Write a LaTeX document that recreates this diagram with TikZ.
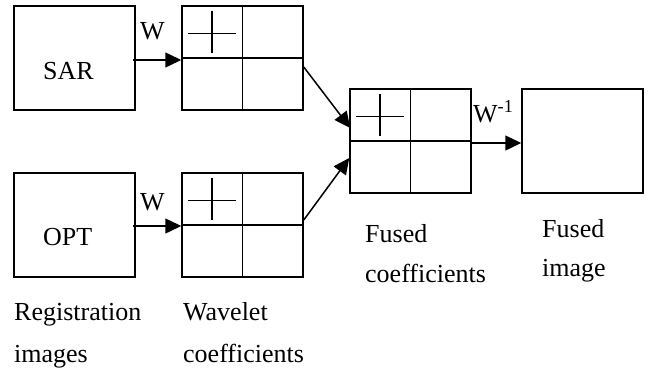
\documentclass[tikz,border=0pt]{standalone}
\usepackage{fontspec}
\setmainfont{Liberation Serif}
\usetikzlibrary{arrows.meta,calc}
\begin{document}
\begin{tikzpicture}[x=1pt,y=-1pt,
  box/.style={draw,line width=1.5pt,rectangle,minimum width=121pt,minimum height=104pt,inner sep=0pt},
  txt/.style={inner sep=0pt,anchor=base west,font=\fontsize{26pt}{30pt}\selectfont},
  grid/.style={line width=1.5pt},
  arr/.style={line width=1.5pt,-{Triangle[length=16pt,width=15pt]}}]
\useasboundingbox (0,0) rectangle (650,372);
% boxes
\node[box] (sar) at (74.5,58) {};
\node[box] (w1) at (242.5,58) {};
\node[box] (opt) at (74.5,225) {};
\node[box] (w2) at (242.5,225) {};
\node[box] (fc) at (410.5,141) {};
\node[box] (fi) at (582.5,141) {};
% grids
\foreach \b in {w1,w2,fc}{
  \draw[grid] (\b.north) -- (\b.south);
  \draw[grid] (\b.west) -- (\b.east);
  \coordinate (\b q) at ($(\b.north west)!0.5!(\b.center)$);
  \draw[grid] ($(\b q)+(-24,2)$) -- ($(\b q)+(24,2)$);
  \draw[grid] ($(\b q)+(0,-21)$) -- ($(\b q)+(0,21)$);
}
% texts
\node[txt] (sart) at (43,79) {SAR};
\node[txt] (optt) at (43,245) {OPT};
\node[txt] (wa) at (140,39) {W};
\node[txt] (wb) at (140,210) {W};
\node[txt] (wi) at (473,122) {W\textsuperscript{-1}};
\node[txt] (reg1) at (14,320) {Registration};
\node[txt] (reg2) at (14,362) {images};
\node[txt] (wav1) at (183,320) {Wavelet};
\node[txt] (wav2) at (183,362) {coefficients};
\node[txt] (fc1) at (365,242) {Fused};
\node[txt] (fc2) at (365,282) {coefficients};
\node[txt] (fi1) at (542,237) {Fused};
\node[txt] (fi2) at (542,276) {image};
% arrows
\draw[arr] ($(sar.east)+(-3,2)$) -- ($(w1.west)+(0,2)$);
\draw[arr] ($(opt.east)+(-3,1)$) -- ($(w2.west)+(0,1)$);
\draw[arr] ($(w1.east)+(0,9)$) -- ($(fc.west)+(1,-13)$);
\draw[arr] ($(w2.east)+(0,-5)$) -- ($(fc.west)+(0,17)$);
\draw[arr] ($(fc.east)+(0,2)$) -- ($(fi.west)+(0,2)$);
\end{tikzpicture}
\end{document}
